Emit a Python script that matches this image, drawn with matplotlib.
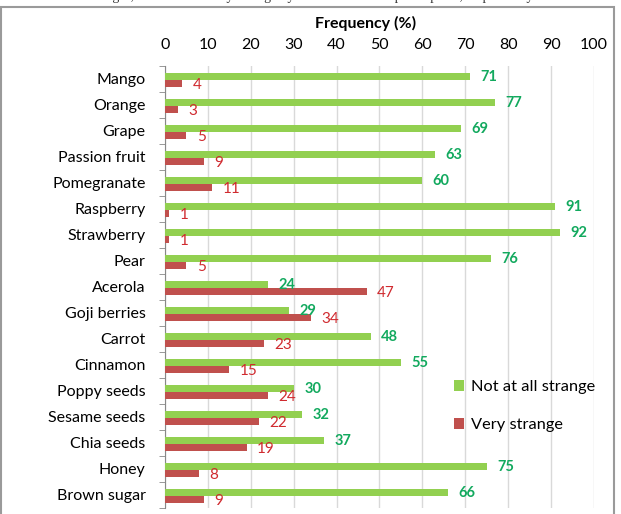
import numpy as np
import matplotlib
matplotlib.use("Agg")
import matplotlib.pyplot as plt
from matplotlib.patches import Rectangle

plt.rcParams['font.family'] = ['Lato', 'DejaVu Sans']

# dados
categories = ['Mango', 'Orange', 'Grape', 'Passion fruit', 'Pomegranate', 'Raspberry',
              'Strawberry', 'Pear', 'Acerola', 'Goji berries', 'Carrot', 'Cinnamon',
              'Poppy seeds', 'Sesame seeds', 'Chia seeds', 'Honey', 'Brown sugar']
not_strange = [71, 77, 69, 63, 60, 91, 92, 76, 24, 29, 48, 55, 30, 32, 37, 75, 66]
very_strange = [4, 3, 5, 9, 11, 1, 1, 5, 47, 34, 23, 15, 24, 22, 19, 8, 9]
xticks = list(range(0, 101, 10))

GREEN = '#92D050'
RED = '#C0504D'
GREEN_TXT = '#12A95E'
RED_TXT = '#D02A2F'

fig = plt.figure(figsize=(6.21, 5.14), dpi=100)
ax = fig.add_axes([0.2657, 0.0117, 0.6908, 0.8599])

y = np.arange(len(categories))
h = 0.27
ax.barh(y - 0.10, not_strange, height=h, color=GREEN, label='Not at all strange', zorder=3)
ax.barh(y + 0.19, very_strange, height=h, color=RED, label='Very strange', zorder=3)

# rótulos de valor
for i, (g, r) in enumerate(zip(not_strange, very_strange)):
    ax.annotate(str(g), (g, i - 0.08), xytext=(7.5, 0), textcoords='offset points',
                va='center', ha='left', color=GREEN_TXT, fontsize=10.5, fontweight='bold')
    ax.annotate(str(r), (r, i + 0.24), xytext=(7.5, 0), textcoords='offset points',
                va='center', ha='left', color=RED_TXT, fontsize=11)

ax.set_xlim(0, 100)
ax.set_ylim(len(categories) - 0.5, -0.5)
ax.set_xticks(xticks)
ax.xaxis.tick_top()
ax.tick_params(axis='x', length=0, labelsize=11.5, pad=10, colors='#000000')
ax.set_yticks(y)
ax.set_yticklabels(categories, fontsize=11.5)
ax.set_yticks(np.arange(len(categories) + 1) - 0.5, minor=True)
ax.tick_params(axis='y', which='major', length=0, pad=14)
ax.tick_params(axis='y', which='minor', length=4, color='#888888')
ax.grid(axis='x', color='#D9D9D9', linewidth=1, zorder=0)
for s in ['right', 'bottom', 'top']:
    ax.spines[s].set_visible(False)
ax.spines['left'].set_color('#888888')

fig.text(0.588, 0.955, 'Frequency (%)', ha='center', va='center',
         fontsize=11.5, fontweight='bold')

ax.legend(loc='upper left', bbox_to_anchor=(0.64, 0.322), frameon=False,
          fontsize=11.8, handlelength=0.6, handleheight=0.6, handletextpad=0.4,
          labelspacing=1.45)

# moldura externa
fig.patches.append(Rectangle((0.002, -0.01), 0.986, 0.997, transform=fig.transFigure,
                             fill=False, edgecolor='#9A9A9A', linewidth=1.5))

# legenda cortada no topo da imagem
fig.text(0.5, 1.008, 'changes, classified as very strange by 47% and 34% of participants, respectively.',
         ha='center', va='center', fontsize=10, family='Liberation Serif', color='#333333')

fig.savefig('out.png', dpi=100)
